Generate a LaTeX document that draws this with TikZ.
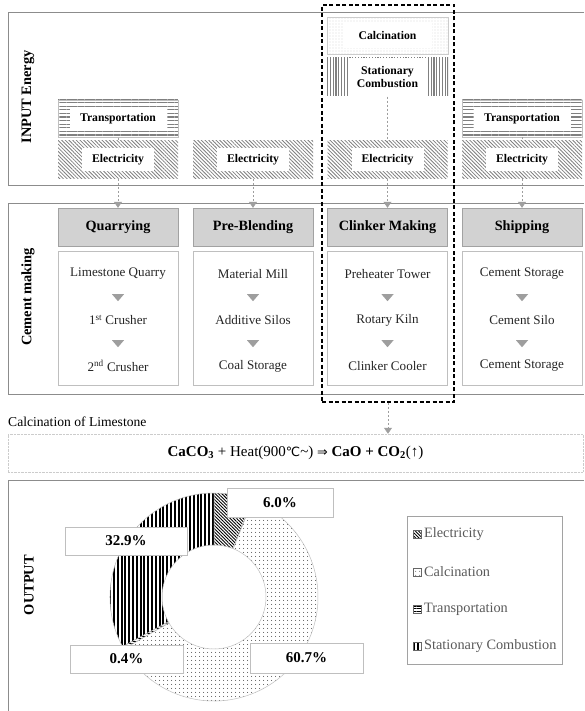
\documentclass[tikz,border=0pt]{standalone}
\usepackage{fontspec}
\setmainfont{Liberation Serif}
\newfontfamily\symfont[Scale=0.85]{DejaVu Sans}
\usetikzlibrary{positioning,arrows.meta,patterns.meta,shapes.geometric}
\definecolor{framegray}{HTML}{8C8C8C}
\definecolor{headgray}{HTML}{D2D2D2}
\definecolor{edgegray}{HTML}{BFBFBF}
\definecolor{tipgray}{HTML}{9E9E9E}
\definecolor{hatchgray}{HTML}{808080}
\definecolor{legendgray}{HTML}{595959}
\tikzset{
  panel/.style={draw=framegray,line width=0.9pt},
  sidetext/.style={rotate=90,inner sep=0pt,font=\bfseries\fontsize{14.4}{16}\selectfont},
  boxtext/.style={fill=white,inner sep=0pt,align=center,font=\bfseries\fontsize{11.7}{13.5}\selectfont},
  elecbox/.style={minimum width=120pt,minimum height=38pt,inner sep=0pt,
    pattern={Lines[angle=-45,distance=2.6pt,line width=0.8pt]},pattern color=hatchgray},
  transbox/.style={minimum width=120pt,minimum height=37pt,inner sep=0pt,draw=hatchgray!50,
    pattern={Lines[angle=0,distance=3.6pt,line width=1.3pt]},pattern color=hatchgray},
  calcbox/.style={minimum width=121pt,minimum height=37pt,inner sep=0pt,draw=hatchgray!40,
    pattern={Dots[radius=0.45pt,distance=3pt]},pattern color=hatchgray!80},
  combbox/.style={minimum width=121pt,minimum height=38pt,inner sep=0pt,
    pattern={Lines[angle=90,distance=2.8pt,line width=1.2pt]},pattern color=hatchgray},
  headbox/.style={draw=edgegray!85!black,fill=headgray,minimum width=120pt,minimum height=38pt,
    inner sep=0pt,font=\bfseries\fontsize{14.2}{16}\selectfont},
  bodybox/.style={draw=edgegray,fill=white,minimum width=120pt,minimum height=134pt},
  itemtext/.style={inner sep=0pt,text=black!85,font=\fontsize{13.1}{15}\selectfont},
  downtri/.style={isosceles triangle,isosceles triangle stretches,shape border rotate=-90,
    minimum width=12pt,minimum height=7pt,inner sep=0pt,fill=tipgray},
  conn/.style={draw=tipgray,line width=0.6pt,dash pattern=on 2pt off 2pt},
  conntip/.style={-{Triangle[width=8pt,length=6pt]}},
  eqbox/.style={draw=edgegray!80,dash pattern=on 0.6pt off 0.8pt,line width=0.5pt,minimum width=575pt,minimum height=38pt,
    font=\fontsize{15}{17}\selectfont},
  elecfill/.style={pattern={Lines[angle=-45,distance=2.3pt,line width=0.9pt]},pattern color=black},
  calcfill/.style={pattern={Dots[radius=0.55pt,distance=4pt]},pattern color=black},
  transfill/.style={pattern={Lines[angle=0,distance=2.5pt,line width=0.8pt]},pattern color=black},
  combfill/.style={pattern={Lines[angle=90,distance=3.8pt,line width=1.9pt]},pattern color=black},
  pctbox/.style={draw=edgegray,fill=white,inner sep=0pt,font=\bfseries\fontsize{15}{17}\selectfont},
  legsym/.style={minimum size=7.5pt,inner sep=0pt,draw=black!60,line width=0.4pt},
  legtext/.style={inner sep=0pt,text=legendgray,font=\fontsize{14.3}{16}\selectfont}
}
\begin{document}
\begin{tikzpicture}[x=1pt,y=-1pt]
\fill[white] (0,0) rectangle (584,711);
\useasboundingbox (0,0) rectangle (584,711);
% panels
\draw[panel] (584,12) -| (8,185) -- (584,185);
\draw[panel] (584,203) -| (8,394) -- (584,394);
\draw[panel] (584,480) -- (8,480) -- (8,711);
\node[sidetext] (inlab) at (28,97) {INPUT Energy};
\node[sidetext] (cmlab) at (28,297) {Cement making};
\node[sidetext] (outlab) at (29,585) {OUTPUT};

% input energy and process columns
\foreach \i/\x/\name/\a/\b/\c in {1/118/Quarrying/Limestone Quarry/1\textsuperscript{st} Crusher/2\textsuperscript{nd} Crusher,
    2/253/Pre-Blending/Material Mill/Additive Silos/Coal Storage,
    3/387.5/Clinker Making/Preheater Tower/Rotary Kiln/Clinker Cooler,
    4/522/Shipping/Cement Storage/Cement Silo/Cement Storage}{
  \node[elecbox] (el\i) at (\x,160) {};
  \node[boxtext,minimum width=72pt,minimum height=23pt] (elt\i) at (el\i) {Electricity};
  \node[headbox] (head\i) at (\x,227) {\name};
  \node[bodybox] (body\i) at (\x,318) {};
  \node[itemtext] (a\i) at (\x,274) {\a};
  \node[downtri] (ta\i) at (\x,297) {};
  \node[itemtext] (b\i) at (\x,320) {\b};
  \node[downtri] (tb\i) at (\x,343) {};
  \node[itemtext] (c\i) at (\x,366) {\c};
  \draw[conn,conntip] (el\i) -- (head\i);
}
\foreach \i/\x in {1/118,4/522}{
  \node[transbox] (tr\i) at (\x,118.5) {};
  \node[boxtext,minimum width=97pt,minimum height=22pt] (trt\i) at (tr\i) {Transportation};
  \draw[conn] (tr\i) -- (el\i);
}
\node[calcbox] (calc) at (387.5,35.5) {};
\node[boxtext,minimum width=88pt,minimum height=26pt] (calct) at (calc) {Calcination};
\node[combbox] (comb) at (387.5,77) {};
\node[boxtext,minimum width=79pt,minimum height=38pt] (combt) at (comb) {Stationary\\Combustion};
\draw[conn] (comb) -- (el3);

\node[draw=black,line width=1.5pt,dash pattern=on 4pt off 2.5pt,minimum width=132pt,minimum height=397pt] (frame) at (388,203.5) {};

% calcination reaction
\node[anchor=west,inner sep=0pt,font=\fontsize{13.6}{15}\selectfont] (eqtitle) at (8,422) {Calcination of Limestone};
\node[eqbox] (eq) at (295.5,453) {\textbf{CaCO\textsubscript{3}} + Heat(900{\symfont ℃}\textasciitilde) {\symfont ⇒} \textbf{CaO + CO\textsubscript{2}}(↑)};
\draw[conn,conntip] (frame.south) -- (frame.south |- eq.north);

% output donut
\begin{scope}[shift={(214,597)}]
\foreach \s/\e/\f in {90/68.4/elecfill,68.4/-150.12/calcfill,-150.12/-151.56/transfill,-151.56/-270/combfill}
  \path[\f,draw=edgegray,line width=0.5pt] (\s:104pt) arc[start angle=\s,end angle=\e,radius=104pt]
    -- (\e:52pt) arc[start angle=\e,end angle=\s,radius=52pt] -- cycle;
\end{scope}
\node[pctbox,minimum width=106pt,minimum height=29pt] (p1) at (280,502.5) {6.0\%};
\node[pctbox,minimum width=122pt,minimum height=28pt] (p2) at (126,541) {32.9\%};
\node[pctbox,minimum width=113pt,minimum height=28pt] (p3) at (126.5,659) {0.4\%};
\node[pctbox,minimum width=113pt,minimum height=30pt] (p4) at (306.5,658) {60.7\%};

% legend
\node[draw=edgegray!85!black,line width=0.8pt,minimum width=155pt,minimum height=148pt] (legend) at (484.5,590) {};
\foreach \f/\t/\y in {elecfill/Electricity/534,calcfill/Calcination/572,transfill/Transportation/609,combfill/Stationary Combustion/646}{
  \node[legsym,\f] (sym\y) at (417,\y) {};
  \node[legtext,right=3pt of sym\y] (leg\y) {\t};
}
\end{tikzpicture}
\end{document}
